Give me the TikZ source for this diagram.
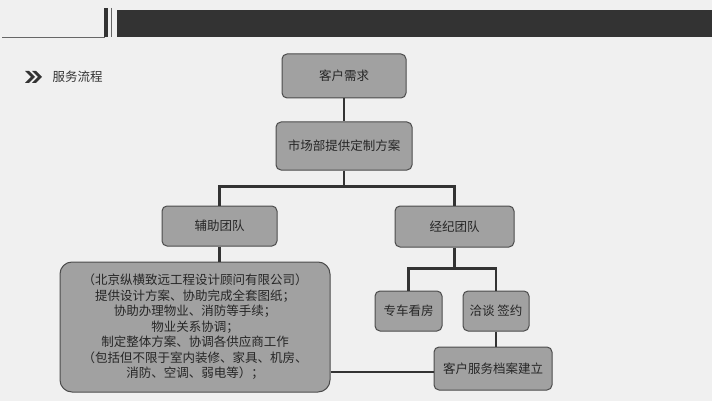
\documentclass[tikz,border=0pt]{standalone}
\usepackage{fontspec}
\newfontfamily\cjk{Noto Sans CJK SC}
\begin{document}
\begin{tikzpicture}[x=1pt,y=-1pt,
 box/.style={draw=black!70,fill=black!37,rounded corners=5pt,line width=1pt,font=\cjk\fontsize{12.5}{15}\selectfont,text=black!85},
 link/.style={draw=black!80,line width=2.2pt}]
\fill[black!6] (0,0) rectangle (712,401);
\useasboundingbox (0,0) rectangle (712,401);
\fill[black!80] (117,10) rectangle (712,37);
\fill[black!80] (104,8) rectangle (108,37);
\draw[black!60,line width=0.6pt] (111,8) -- (111,37);
\draw[black!60,line width=0.8pt] (2,37) -- (105,37);
\fill[black!80] (25,71) -- (31,77) -- (25,83) -- (29,83) -- (35,77) -- (29,71) -- cycle;
\fill[black!80] (32,71) -- (38,77) -- (32,83) -- (36,83) -- (42,77) -- (36,71) -- cycle;
\node[anchor=west,font=\cjk\fontsize{12.5}{15}\selectfont,text=black!80] (title) at (49,77) {服务流程};
\node[box,minimum width=124pt,minimum height=44pt] (a) at (344,76) {客户需求};
\node[box,minimum width=136pt,minimum height=48pt] (b) at (344,146) {市场部提供定制方案};
\node[box,minimum width=115pt,minimum height=40pt] (c) at (219.5,226) {辅助团队};
\node[box,minimum width=119pt,minimum height=41pt] (d) at (454.5,226.5) {经纪团队};
\node[box,minimum width=270pt,minimum height=130pt,rounded corners=12pt,align=center,inner sep=1pt,font=\cjk\fontsize{12.5}{15.5}\selectfont] (e) at (195,327)
{（北京纵横致远工程设计顾问有限公司）\\提供设计方案、协助完成全套图纸；\\协助办理物业、消防等手续；\\物业关系协调；\\制定整体方案、协调各供应商工作\\（包括但不限于室内装修、家具、机房、\\消防、空调、弱电等）；};
\node[box,minimum width=67pt,minimum height=40pt,inner sep=1pt] (f) at (408.5,311) {专车看房};
\node[box,minimum width=66pt,minimum height=40pt,inner sep=1pt] (g) at (496,311) {洽谈 签约};
\node[box,minimum width=118pt,minimum height=43pt,inner sep=1pt] (h) at (493,368.5) {客户服务档案建立};
\draw[link] (a) -- (b);
\draw[link] (b.south) -- ++(0,16) coordinate (m1);
\draw[link] (c.north) |- (m1) -| (d.north);
\draw[link] (c.south) -- (c.south |- e.north);
\draw[link] (d.south) -- ++(0,21) coordinate (m2);
\draw[link] (f.north) |- (m2) -| (g.north);
\draw[link] (g) -- (g |- h.north);
\draw[link] (e.east |- 0,372) -- (h.west |- 0,372);
\end{tikzpicture}
\end{document}
